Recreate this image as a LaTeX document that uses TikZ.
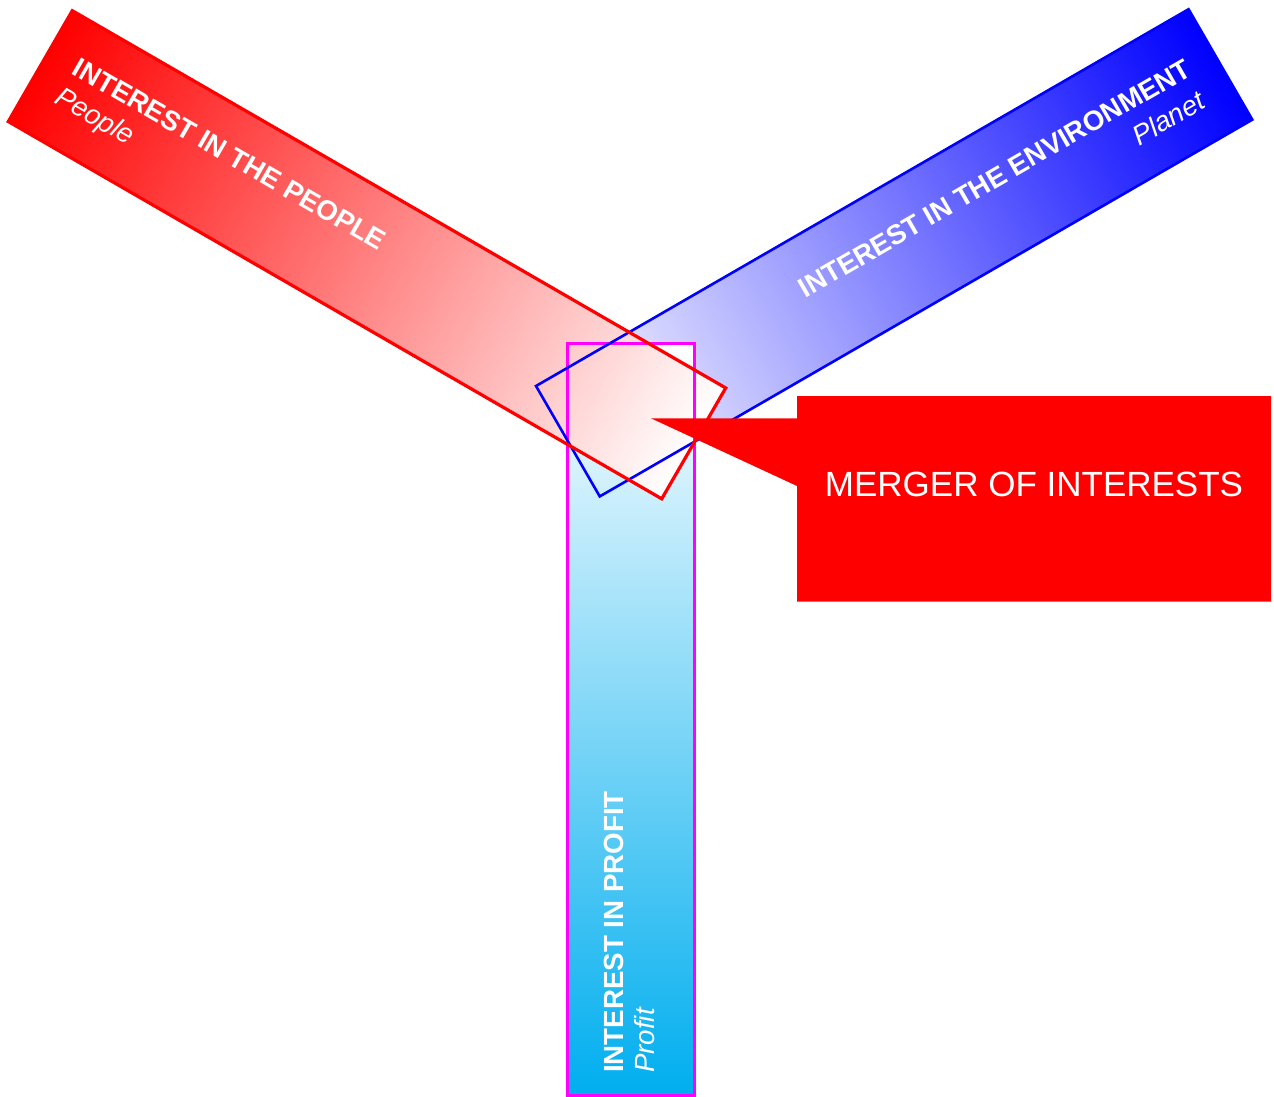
\documentclass[tikz,border=0pt]{standalone}
\usepackage{fontspec}
\setmainfont{Liberation Sans}
\definecolor{cyanc}{RGB}{0,174,239}
\definecolor{magc}{RGB}{255,0,255}
\begin{document}
\begin{tikzpicture}[x=1pt,y=1pt,
  redband/.style={transform canvas={shift={(72.3,-10.7)},rotate=-30}},
  blueband/.style={transform canvas={shift={(536,-386)},rotate=30}},
  ttl/.style={text=white,font=\fontsize{27.7}{34}\selectfont\bfseries,inner sep=0pt},
  sub/.style={text=white,font=\fontsize{27.7}{34}\selectfont\itshape,inner sep=0pt},
  callout/.style={fill=red,draw=none}]
\path[use as bounding box,fill=white] (0,0) rectangle (1274,-1097);
% fills
\begin{scope}[blueband]
  \shade[left color=white,right color=blue] (0,0) rectangle (753.5,-127.5);
\end{scope}
\shade[top color=white,bottom color=cyanc] (567,-343) rectangle (694,-1095);
\begin{scope}[redband]
  \shade[left color=red,right color=white] (0,0) rectangle (754.5,-128);
\end{scope}
% outlines
\draw[magc,line width=3] (567,-343) rectangle (694,-1095);
\begin{scope}[blueband]
  \draw[blue,line width=2.6] (0,0) rectangle (753.5,-127.5);
\end{scope}
\begin{scope}[redband]
  \draw[red,line width=3.2] (0,0) rectangle (754.5,-128);
\end{scope}
% texts
\begin{scope}[redband]
  \node[ttl,anchor=base west] (peopleT) at (30,-55) {INTEREST IN THE PEOPLE};
  \node[sub,anchor=base west] (peopleS) at (29,-89) {People};
\end{scope}
\begin{scope}[blueband]
  \node[ttl,anchor=base east] (planetT) at (725,-59) {INTEREST IN THE ENVIRONMENT};
  \node[sub,anchor=base east] (planetS) at (721,-94) {Planet};
\end{scope}
\node[ttl,anchor=base west,rotate=90] (profitT) at (623.3,-1073) {INTEREST IN PROFIT};
\node[sub,anchor=base west,rotate=90] (profitS) at (654,-1073) {Profit};
% callout
\path[callout] (797,-396) -- (1271,-396) -- (1271,-601.5) -- (797,-601.5) -- (797,-486) -- (651,-418.3) -- (797,-418.3) -- cycle;
\node[text=white,font=\fontsize{35}{42}\selectfont,inner sep=0pt,anchor=base] (merger) at (1034,-496.7) {MERGER OF INTERESTS};
\end{tikzpicture}
\end{document}
